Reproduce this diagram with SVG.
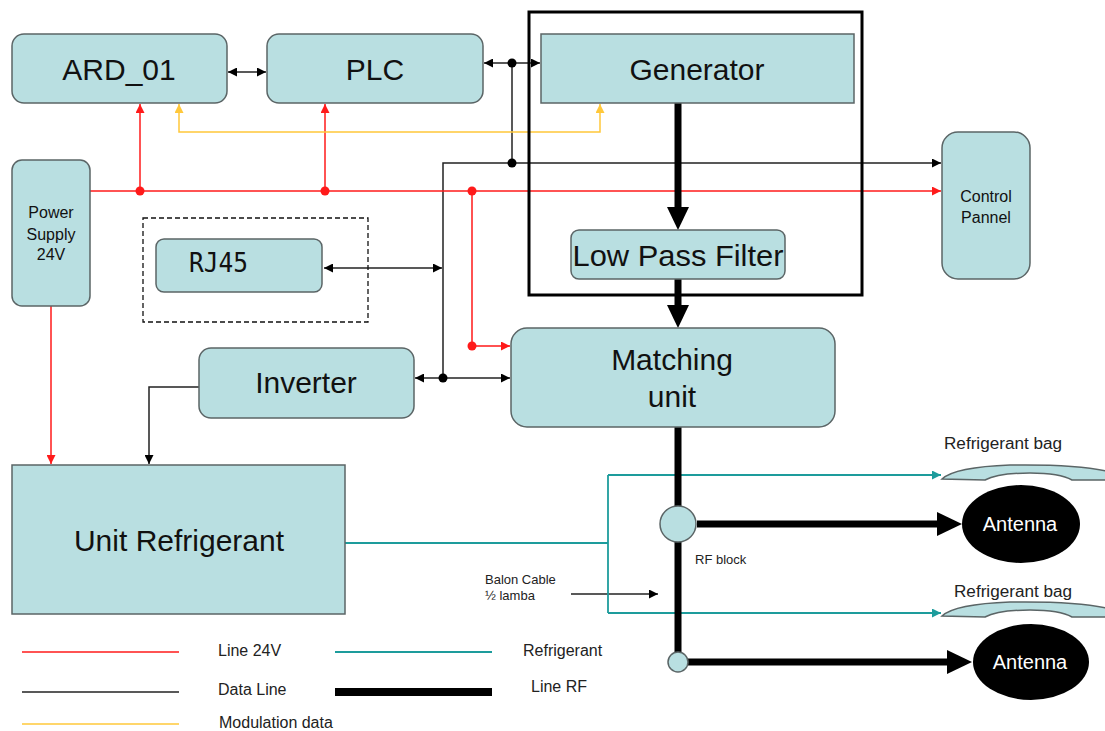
<svg xmlns="http://www.w3.org/2000/svg" width="1105" height="731" viewBox="0 0 1105 731">
  <style>
    .box { fill: #b9dfe1; stroke: #5b6566; stroke-width: 1.5; }
    .lbl { font-family: "Liberation Sans", Arial, sans-serif; fill: #111; text-anchor: middle; }
    .big { font-size: 30px; }
    .small { font-size: 16px; }
    .tiny { font-size: 13px; }
    .note { font-family: "Liberation Sans", Arial, sans-serif; fill: #222; }
    .data { fill: none; stroke: #222; stroke-width: 1.5; }
    .pwr { fill: none; stroke: #ff1a1a; stroke-width: 1.5; }
    .mod { fill: none; stroke: #ffc83a; stroke-width: 1.5; }
    .ref { fill: none; stroke: #1d9c9c; stroke-width: 1.8; }
    .rf { fill: none; stroke: #000; stroke-width: 7; }
    .rfhead { fill: #000; }
    .dotk { fill: #000; }
    .dotr { fill: #ff1a1a; }
  </style>
  <defs>
    <marker id="ak" viewBox="0 0 10 10" refX="10" refY="5" markerWidth="9" markerHeight="9" markerUnits="userSpaceOnUse" orient="auto-start-reverse">
      <path d="M0,0 L10,5 L0,10 Z" fill="#000"/>
    </marker>
    <marker id="ar" viewBox="0 0 10 10" refX="10" refY="5" markerWidth="9" markerHeight="9" markerUnits="userSpaceOnUse" orient="auto-start-reverse">
      <path d="M0,0 L10,5 L0,10 Z" fill="#ff1a1a"/>
    </marker>
    <marker id="ay" viewBox="0 0 10 10" refX="10" refY="5" markerWidth="9" markerHeight="9" markerUnits="userSpaceOnUse" orient="auto-start-reverse">
      <path d="M0,0 L10,5 L0,10 Z" fill="#ffc83a"/>
    </marker>
    <marker id="at" viewBox="0 0 10 10" refX="10" refY="5" markerWidth="9" markerHeight="9" markerUnits="userSpaceOnUse" orient="auto-start-reverse">
      <path d="M0,0 L10,5 L0,10 Z" fill="#1d9c9c"/>
    </marker>
  </defs>

  <rect width="1105" height="731" fill="#fff"/>

  <!-- connectors -->
  <g id="connectors">
    <!-- data lines -->
    <line class="data" x1="228" y1="72" x2="266" y2="72" marker-start="url(#ak)" marker-end="url(#ak)"/>
    <line class="data" x1="484" y1="63" x2="540" y2="63" marker-start="url(#ak)" marker-end="url(#ak)"/>
    <line class="data" x1="512" y1="63" x2="512" y2="163"/>
    <polyline class="data" points="443,378 443,163 941,163" marker-end="url(#ak)"/>
    <line class="data" x1="324" y1="268" x2="442" y2="268" marker-start="url(#ak)" marker-end="url(#ak)"/>
    <line class="data" x1="415" y1="378" x2="510" y2="378" marker-start="url(#ak)" marker-end="url(#ak)"/>
    <polyline class="data" points="199,387 149,387 149,464" marker-end="url(#ak)"/>
    <line class="data" x1="571" y1="594" x2="658" y2="594" marker-end="url(#ak)"/>
    <circle class="dotk" cx="512" cy="63" r="4.5"/>
    <circle class="dotk" cx="512" cy="163" r="4.5"/>
    <circle class="dotk" cx="443" cy="378" r="4.5"/>

    <!-- 24V supply -->
    <line class="pwr" x1="90" y1="191" x2="941" y2="191" marker-end="url(#ar)"/>
    <line class="pwr" x1="140" y1="191" x2="140" y2="104" marker-end="url(#ar)"/>
    <line class="pwr" x1="325" y1="191" x2="325" y2="104" marker-end="url(#ar)"/>
    <polyline class="pwr" points="472,191 472,346 510,346" marker-end="url(#ar)"/>
    <line class="pwr" x1="51" y1="306" x2="51" y2="464" marker-end="url(#ar)"/>
    <circle class="dotr" cx="140" cy="191" r="4.5"/>
    <circle class="dotr" cx="325" cy="191" r="4.5"/>
    <circle class="dotr" cx="472" cy="191" r="4.5"/>
    <circle class="dotr" cx="472" cy="346" r="4.5"/>

    <!-- modulation data -->
    <polyline class="mod" points="179,104 179,132 600,132 600,104" marker-start="url(#ay)" marker-end="url(#ay)"/>

    <!-- refrigerant -->
    <line class="ref" x1="345" y1="543" x2="608" y2="543"/>
    <line class="ref" x1="608" y1="475" x2="608" y2="613"/>
    <line class="ref" x1="608" y1="475" x2="941" y2="475" marker-end="url(#at)"/>
    <line class="ref" x1="608" y1="613" x2="941" y2="613" marker-end="url(#at)"/>

    <!-- RF line -->
    <line class="rf" x1="678" y1="103" x2="678" y2="210"/>
    <polygon class="rfhead" points="667,207 689,207 678,230"/>
    <line class="rf" x1="678" y1="279" x2="678" y2="307"/>
    <polygon class="rfhead" points="667,305 689,305 678,328"/>
    <line class="rf" x1="678" y1="427" x2="678" y2="662"/>
    <line class="rf" x1="697" y1="524" x2="940" y2="524" stroke-width="8"/>
    <polygon class="rfhead" points="937,512 937,536 962,524"/>
    <line class="rf" x1="688" y1="662" x2="950" y2="662" stroke-width="8"/>
    <polygon class="rfhead" points="947,650 947,674 972,662"/>
  </g>

  <!-- RF section enclosure -->
  <g id="rf-section">
    <rect x="529" y="12" width="333" height="283" fill="none" stroke="#000" stroke-width="3"/>
  </g>

  <g id="ard01">
    <rect class="box" x="12" y="34" width="215" height="69" rx="12"/>
    <text class="lbl big" x="119" y="80">ARD_01</text>
  </g>
  <g id="plc">
    <rect class="box" x="267" y="34" width="216" height="69" rx="12"/>
    <text class="lbl big" x="375" y="80">PLC</text>
  </g>
  <g id="generator">
    <rect class="box" x="541" y="34" width="313" height="69"/>
    <text class="lbl big" x="697" y="80">Generator</text>
  </g>
  <g id="low-pass-filter">
    <rect class="box" x="571" y="230" width="214" height="49" rx="8"/>
    <text class="lbl big" x="678" y="266" textLength="211" lengthAdjust="spacingAndGlyphs">Low Pass Filter</text>
  </g>
  <g id="control-pannel">
    <rect class="box" x="942" y="132" width="88" height="147" rx="16"/>
    <text class="lbl small" x="986" y="202">Control</text>
    <text class="lbl small" x="986" y="223">Pannel</text>
  </g>
  <g id="power-supply">
    <rect class="box" x="12" y="160" width="78" height="146" rx="10"/>
    <text class="lbl small" x="51" y="218">Power</text>
    <text class="lbl small" x="51" y="240">Supply</text>
    <text class="lbl small" x="51" y="260">24V</text>
  </g>
  <g id="rj45">
    <rect x="143" y="218" width="225" height="104" fill="none" stroke="#111" stroke-width="1.3" stroke-dasharray="5,3"/>
    <rect class="box" x="156" y="239" width="166" height="53" rx="8"/>
    <text x="189" y="272" font-family="'DejaVu Sans Mono', 'Liberation Mono', monospace" font-size="26" fill="#111" textLength="59" lengthAdjust="spacingAndGlyphs">RJ45</text>
  </g>
  <g id="inverter">
    <rect class="box" x="199" y="348" width="215" height="70" rx="12"/>
    <text class="lbl big" x="306" y="393">Inverter</text>
  </g>
  <g id="matching-unit">
    <rect class="box" x="511" y="328" width="324" height="99" rx="16"/>
    <text class="lbl big" x="672" y="370">Matching</text>
    <text class="lbl big" x="672" y="407">unit</text>
  </g>
  <g id="unit-refrigerant">
    <rect class="box" x="12" y="465" width="333" height="149"/>
    <text class="lbl big" x="179" y="551">Unit Refrigerant</text>
  </g>
  <g id="rf-block">
    <circle class="box" cx="678" cy="524" r="18"/>
    <text class="note tiny" x="695" y="564">RF block</text>
  </g>
  <g id="rf-split">
    <circle class="box" cx="678" cy="662" r="10"/>
  </g>
  <g id="antenna-1">
    <ellipse cx="1021" cy="524" rx="59" ry="39" fill="#000"/>
    <text class="lbl" x="1020" y="531" font-size="20" fill="#fff" style="fill:#fff">Antenna</text>
  </g>
  <g id="antenna-2">
    <ellipse cx="1031" cy="662" rx="58" ry="38" fill="#000"/>
    <text class="lbl" x="1030" y="669" font-size="20" style="fill:#fff">Antenna</text>
  </g>
  <g id="refrigerant-bag-1">
    <path class="box" d="M942,479 Q955,467 1010,465 Q1080,464 1110,472 L1110,480 L1072,480 Q1060,473 1030,473 Q998,473 985,480 Z"/>
    <text class="note small" x="944" y="449" textLength="118" lengthAdjust="spacingAndGlyphs">Refrigerant bag</text>
  </g>
  <g id="refrigerant-bag-2">
    <path class="box" d="M942,616 Q955,604 1010,602 Q1080,601 1110,609 L1110,617 L1072,617 Q1060,610 1030,610 Q998,610 985,617 Z"/>
    <text class="note small" x="954" y="597" textLength="118" lengthAdjust="spacingAndGlyphs">Refrigerant bag</text>
  </g>
  <g id="balon-cable">
    <text class="note tiny" x="485" y="584">Balon Cable</text>
    <text class="note tiny" x="485" y="600">½ lamba</text>
  </g>

  <!-- legend -->
  <g id="legend">
    <line x1="22" y1="652" x2="179" y2="652" stroke="#ff1a1a" stroke-width="1.5"/>
    <line x1="22" y1="692" x2="179" y2="692" stroke="#222" stroke-width="1.5"/>
    <line x1="22" y1="724" x2="179" y2="724" stroke="#ffc83a" stroke-width="1.5"/>
    <line x1="335" y1="652" x2="492" y2="652" stroke="#1d9c9c" stroke-width="1.8"/>
    <line x1="335" y1="692" x2="492" y2="692" stroke="#000" stroke-width="8"/>
    <text class="note small" x="218" y="656">Line 24V</text>
    <text class="note small" x="218" y="695">Data Line</text>
    <text class="note small" x="219" y="728">Modulation data</text>
    <text class="note small" x="523" y="656">Refrigerant</text>
    <text class="note small" x="531" y="692">Line RF</text>
  </g>
</svg>
